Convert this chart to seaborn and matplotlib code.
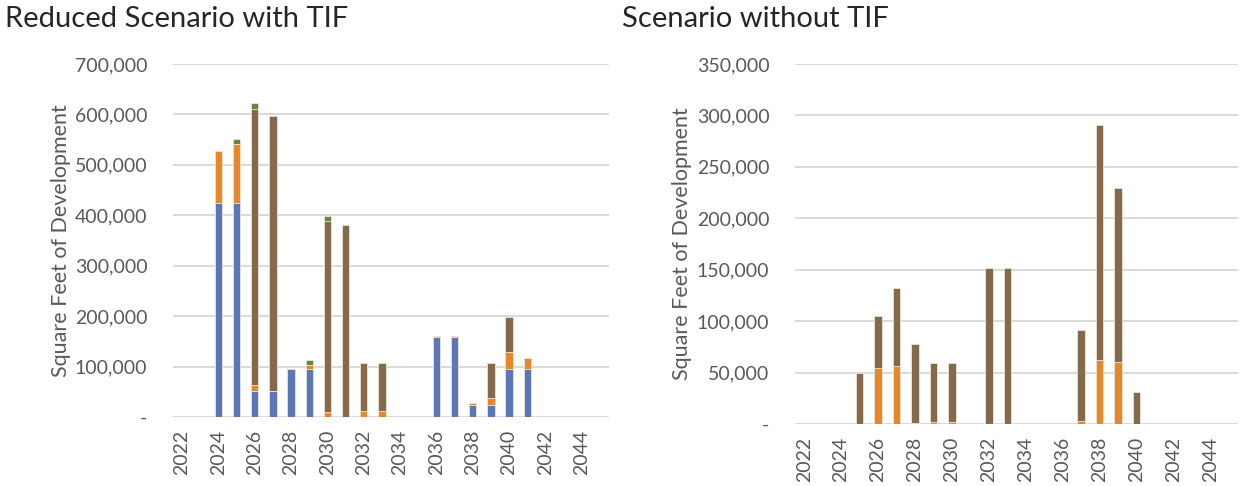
import matplotlib
matplotlib.use("Agg")
import matplotlib.pyplot as plt
import matplotlib.ticker as mticker
import numpy as np
import pandas as pd
import seaborn as sns

# --- data (square feet, per year) ---
YEARS = [str(y) for y in range(2022, 2046)]

# Reduced scenario with TIF
tif_blue = [0, 0, 425000, 425000, 51000, 51000, 95000, 95000, 0, 0, 0, 0,
            0, 0, 158000, 158000, 23000, 23000, 96000, 96000, 0, 0, 0, 0]
tif_orange = [0, 0, 102000, 116000, 13000, 0, 0, 9000, 9000, 0, 12000, 12000,
              0, 0, 3000, 3000, 4000, 14000, 32000, 21000, 0, 0, 0, 0]
tif_brown = [0, 0, 0, 0, 546000, 545000, 0, 0, 380000, 380000, 95000, 95000,
             0, 0, 0, 0, 0, 71000, 70000, 0, 0, 0, 0, 0]
tif_green = [0, 0, 0, 11000, 12000, 0, 0, 9000, 10000, 0, 0, 0,
             0, 0, 0, 0, 0, 0, 0, 0, 0, 0, 0, 0]

# Scenario without TIF
notif_orange = [0, 0, 0, 0, 54000, 56000, 1300, 1500, 1500, 0, 0, 0,
                0, 0, 0, 3000, 62000, 60000, 0, 0, 0, 0, 0, 0]
notif_brown = [0, 0, 0, 50000, 51000, 76000, 76000, 58000, 58000, 0, 152000, 152000,
               0, 0, 0, 88000, 229000, 169000, 31000, 0, 0, 0, 0, 0]

COLORS = {"blue": "#5B77B5", "orange": "#E8872A", "brown": "#84694A", "green": "#5D8B3B"}
GRID = "#D9D9D9"
TEXT = "#595959"

sns.set_theme(style="white")
plt.rcParams["font.family"] = ["Lato", "DejaVu Sans"]


def thousands(v, _):
    return "-" if v == 0 else f"{int(v):,}"


def stacked(ax, layers, ymax, step):
    """Draw stacked bars by overlaying cumulative totals, top layer first."""
    df = pd.DataFrame({"year": YEARS})
    cum = np.zeros(len(YEARS))
    totals = []
    for name, vals in layers:
        cum = cum + np.array(vals, dtype=float)
        totals.append((name, cum.copy()))
    for name, tot in reversed(totals):
        df["v"] = tot
        sns.barplot(data=df, x="year", y="v", color=COLORS[name], width=0.4,
                    saturation=1, edgecolor="#EDE6DC", linewidth=0.6, ax=ax, zorder=3)

    ax.set_xlim(-0.5, len(YEARS) - 0.5)
    ax.set_ylim(0, ymax)
    ax.yaxis.set_major_locator(mticker.MultipleLocator(step))
    ax.yaxis.set_major_formatter(mticker.FuncFormatter(thousands))
    ax.set_xticks(range(len(YEARS)))
    ax.set_xticklabels([y if int(y) % 2 == 0 else "" for y in YEARS], rotation=90)
    ax.grid(axis="y", color=GRID, linewidth=1.4, zorder=0)
    ax.set_axisbelow(True)
    for s in ax.spines.values():
        s.set_visible(False)
    ax.tick_params(axis="both", length=0, labelsize=14, colors=TEXT)
    ax.tick_params(axis="y", pad=18.5)
    ax.tick_params(axis="x", pad=9)
    ax.set_xlabel("")
    ax.set_ylabel("Square Feet of Development", fontsize=15.5, color=TEXT, labelpad=3)


fig = plt.figure(figsize=(12.41, 4.86), dpi=100)
ax1 = fig.add_axes([0.1394, 0.1420, 0.3513, 0.7263])
ax2 = fig.add_axes([0.6406, 0.1276, 0.3570, 0.7407])

stacked(ax1, [("blue", tif_blue), ("orange", tif_orange),
              ("brown", tif_brown), ("green", tif_green)], 700000, 100000)
stacked(ax2, [("orange", notif_orange), ("brown", notif_brown)], 350000, 50000)

fig.text(0.004, 0.988, "Reduced Scenario with TIF", fontsize=21, color="#262626", va="top")
fig.text(0.501, 0.988, "Scenario without TIF", fontsize=21, color="#262626", va="top")

fig.savefig("out.png", dpi=100)
